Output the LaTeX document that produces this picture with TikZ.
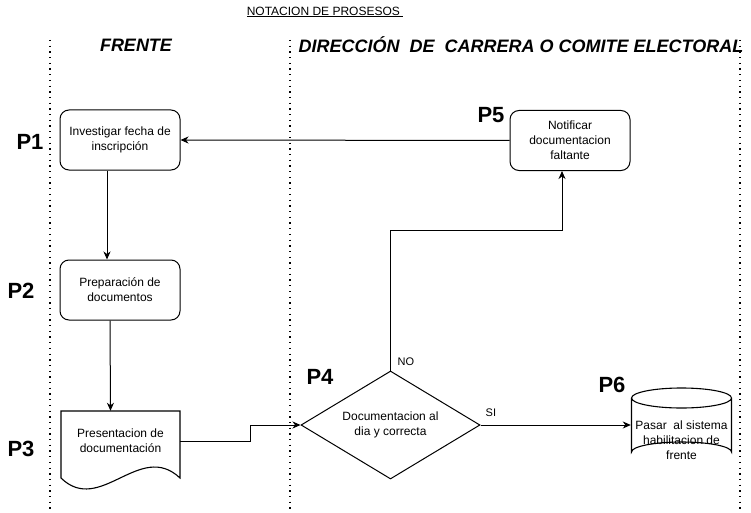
\documentclass[tikz,border=0pt]{standalone}
\usepackage{fontspec}
\setmainfont{Liberation Sans}
\usetikzlibrary{calc, positioning, arrows.meta, shapes.geometric}

\begin{document}
\begin{tikzpicture}[x=1pt, y=-1pt, font=\fontsize{12}{15}\selectfont]
    \tikzstyle{block} = [rectangle, draw, line width=1pt, align=center, rounded corners=9pt, minimum width=120pt, minimum height=60pt, inner sep=0pt]
    \tikzstyle{plain_text} = [align=center, inner sep=0pt]
    \tikzstyle{decision} = [diamond, draw, line width=1pt, align=center, minimum width=179pt, minimum height=108pt, aspect=1.66, inner sep=0pt]
    \tikzstyle{step_label} = [font=\fontsize{22}{24}\selectfont\bfseries, inner sep=0pt]
    \tikzstyle{lane_title} = [font=\fontsize{18}{20}\selectfont\bfseries\itshape, inner sep=0pt]
    \tikzstyle{lane} = [line width=1.3pt, dash pattern=on 1.3pt off 4.4pt]
    \tikzstyle{outline} = [draw, line width=1.1pt, solid]
    \tikzstyle{line} = [draw, line width=1pt, -{Stealth[length=8pt, width=7pt, inset=2.5pt]}]

    \useasboundingbox (0,0) rectangle (751,513);

    % title and lanes
    \node [inner sep=0pt, font=\fontsize{12}{14}\selectfont] (title) at (325,12) {\underline{NOTACION DE PROSESOS\ }};
    \foreach \x in {50,290,740}
        \draw [lane] (\x,40) -- (\x,513);
    \node [lane_title] (frente) at (136,45) {FRENTE};
    \node [lane_title] (direccion) at (521,45) {DIRECCIÓN\ \ DE\ \ CARRERA O COMITE ELECTORAL};

    % steps
    \node [block] (investigar) at (120,140) {Investigar fecha de\\inscripción};
    \node [block] (preparacion) at (120,290) {Preparación de\\documentos};
    \node [plain_text, minimum width=119pt, minimum height=60pt] (presentacion) at (120.5,441) {Presentacion de\\documentación};
    \draw [outline] (61,411) -- (180,411) -- (180,478) .. controls (140,440) and (100,516) .. (61,478) -- cycle;
    \node [decision] (decision) at (390.5,425) {Documentacion al\\dia y correcta};
    \node [block] (notificar) at (570,140.5) {Notificar\\documentacion\\faltante};
    \node [plain_text, minimum width=101pt] (sistema) at (681.5,440) {Pasar\ \ al sistema\\habilitacion de\\frente};
    \draw [outline] (631.5,398) arc[start angle=180, end angle=0, x radius=50, y radius=10]
        arc[start angle=0, end angle=-180, x radius=50, y radius=10]
        -- (631.5,452) arc[start angle=180, end angle=360, x radius=50, y radius=10] -- (731.5,398);

    % step labels
    \node [step_label] (p1) at (30,142) {P1};
    \node [step_label] (p2) at (21,291) {P2};
    \node [step_label] (p3) at (21,449) {P3};
    \node [step_label] (p4) at (320,377) {P4};
    \node [step_label] (p5) at (491,115) {P5};
    \node [step_label] (p6) at (612,385) {P6};

    % connectors
    \path [line] ([xshift=-13pt]investigar.south) -- ([xshift=-13pt]preparacion.north);
    \path [line] ([xshift=-10pt]preparacion.south) -- ([xshift=-10pt]presentacion.north);
    \path [line] (presentacion.east) -- ++(70,0) |- (decision.west);
    \path [line] (decision.north) -- ++(0,-140) -| ([xshift=-8pt]notificar.south);
    \path [line] (decision.east) -- (sistema.west |- decision.east);
    \path [line] (notificar.west) -- (investigar.east);
    \node [inner sep=0pt, font=\fontsize{11}{13}\selectfont, above right=5pt and 7pt of decision.north] (no) {NO};
    \node [inner sep=0pt, font=\fontsize{11}{13}\selectfont, above right=8pt and 5pt of decision.east] (si) {SI};
\end{tikzpicture}
\end{document}
